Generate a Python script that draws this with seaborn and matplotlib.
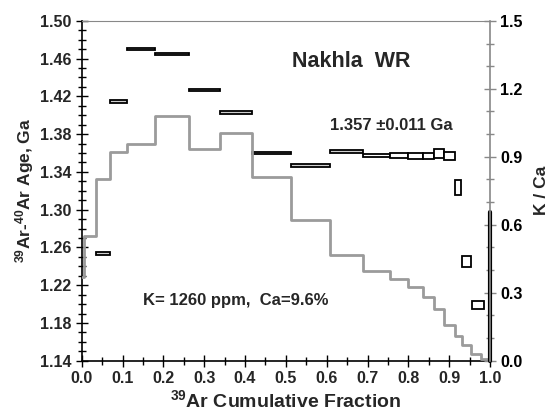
import numpy as np
import pandas as pd
import matplotlib
matplotlib.use("Agg")
import matplotlib.pyplot as plt
from matplotlib.ticker import MultipleLocator, FormatStrFormatter
import seaborn as sns

# ---- data ----
# K/Ca step spectrum (cumulative 39Ar fraction edges and K/Ca values)
kca_edges = [0.0, 0.006, 0.034, 0.069, 0.112, 0.180, 0.262, 0.338, 0.416, 0.512,
             0.607, 0.690, 0.754, 0.800, 0.836, 0.862, 0.888, 0.913, 0.932, 0.954,
             0.978, 0.997]
kca_vals = [0.37, 0.55, 0.80, 0.92, 0.955, 1.08, 0.935, 1.005, 0.81, 0.62,
            0.465, 0.395, 0.36, 0.325, 0.28, 0.23, 0.157, 0.11, 0.068, 0.03, 0.008]
kca_last_bar = 0.655

# Age spectrum boxes
age_left = [0.034, 0.069, 0.112, 0.180, 0.262, 0.338, 0.416, 0.512, 0.607, 0.690,
            0.754, 0.800, 0.836, 0.862, 0.888, 0.913, 0.932, 0.956]
age_right = [0.069, 0.112, 0.180, 0.262, 0.338, 0.416, 0.512, 0.607, 0.690, 0.754,
             0.800, 0.836, 0.862, 0.888, 0.913, 0.930, 0.953, 0.984]
ages = [1.254, 1.415, 1.470, 1.465, 1.427, 1.403, 1.360, 1.347, 1.362, 1.3576,
        1.3576, 1.357, 1.357, 1.359, 1.357, 1.323, 1.245, 1.199]
age_err = [0.0015, 0.0015, 0.0012, 0.0012, 0.0012, 0.0015, 0.0015, 0.0015, 0.0015, 0.0018,
           0.0025, 0.0035, 0.0035, 0.0048, 0.004, 0.008, 0.0055, 0.0045]
filled = [True] * 9 + [False] * 9

xticks = [0.0, 0.1, 0.2, 0.3, 0.4, 0.5, 0.6, 0.7, 0.8, 0.9, 1.0]
yticks_left = [1.14, 1.18, 1.22, 1.26, 1.30, 1.34, 1.38, 1.42, 1.46, 1.50]
yticks_right = [0.0, 0.3, 0.6, 0.9, 1.2, 1.5]

# ---- style ----
sns.set_style("ticks")
plt.rcParams["font.family"] = ["Liberation Sans", "DejaVu Sans"]
plt.rcParams["font.weight"] = "bold"
plt.rcParams["axes.labelweight"] = "bold"
plt.rcParams["mathtext.fontset"] = "custom"
plt.rcParams["mathtext.rm"] = "Liberation Sans:bold"
plt.rcParams["mathtext.bf"] = "Liberation Sans:bold"
plt.rcParams["mathtext.default"] = "rm"

fig = plt.figure(figsize=(5.5, 4.17), dpi=100)
ax = fig.add_axes([0.1485, 0.135, 0.7425, 0.815])
ax2 = ax.twinx()

# age boxes
left = np.array(age_left)
right = np.array(age_right)
a = np.array(ages)
e = np.array(age_err)
fc = ["#cfcfcf" if f else "white" for f in filled]
ax.bar(left, 2 * e, bottom=a - e, width=right - left, align="edge",
       color=fc, edgecolor="black", linewidth=1.3, zorder=3)

# K/Ca step line
kdf = pd.DataFrame({"x": kca_edges, "k": kca_vals + [kca_vals[-1]]})
sns.lineplot(data=kdf, x="x", y="k", drawstyle="steps-post", ax=ax2,
             color="#9b9b9b", linewidth=2, estimator=None)
ax2.plot([1.0, 1.0], [0.0, kca_last_bar], color="black", linewidth=3, clip_on=False)

ax.set_xlim(0, 1.0)
ax.set_ylim(1.14, 1.50)
ax2.set_ylim(0, 1.5)

ax.set_xticks(xticks)
ax.xaxis.set_minor_locator(MultipleLocator(0.05))
ax.xaxis.set_major_formatter(FormatStrFormatter("%.1f"))
ax.set_yticks(yticks_left)
ax.yaxis.set_minor_locator(MultipleLocator(0.01))
ax.yaxis.set_major_formatter(FormatStrFormatter("%.2f"))
ax2.set_yticks(yticks_right)
ax2.yaxis.set_minor_locator(MultipleLocator(0.1))
ax2.yaxis.set_major_formatter(FormatStrFormatter("%.1f"))

ax.tick_params(axis="both", which="major", direction="inout", length=9, width=1,
               labelsize=11.5, color="black", pad=3)
ax.tick_params(axis="both", which="minor", direction="inout", length=6, width=1, color="black")
ax2.tick_params(axis="y", which="major", direction="inout", length=9, width=1,
                labelsize=11.5, color="#888888", labelcolor="black", pad=3)
ax2.tick_params(axis="y", which="minor", direction="inout", length=6, width=1, color="#888888")
for lbl in ax.get_xticklabels() + ax.get_yticklabels() + ax2.get_yticklabels():
    lbl.set_fontweight("bold")

for s in ["left", "bottom"]:
    ax.spines[s].set_color("black")
    ax.spines[s].set_linewidth(1.2)
ax.spines["top"].set_color("#888888")
ax.spines["right"].set_visible(False)
ax2.spines["right"].set_color("#888888")
ax2.spines["right"].set_linewidth(1.2)
for s in ["left", "bottom", "top"]:
    ax2.spines[s].set_visible(False)

ax.set_xlabel(r"$^{39}$Ar Cumulative Fraction", fontsize=14, fontweight="bold", labelpad=2)
ax.set_ylabel(r"$^{39}$Ar-$^{40}$Ar Age, Ga", fontsize=12.5, fontweight="bold", labelpad=3)
ax2.set_ylabel("K / Ca", fontsize=12.5, fontweight="bold")
ax2.yaxis.set_label_coords(1.108, 0.5)

ax.text(0.661, 1.4566, "Nakhla  WR", fontsize=15.5, fontweight="bold", ha="center", va="center")
ax.text(0.759, 1.3896, "1.357 \u00b10.011 Ga", fontsize=12, fontweight="bold", ha="center", va="center")
ax.text(0.149, 1.2043, "K= 1260 ppm,  Ca=9.6%", fontsize=12, fontweight="bold", ha="left", va="center")

fig.savefig("out.png", dpi=100)
